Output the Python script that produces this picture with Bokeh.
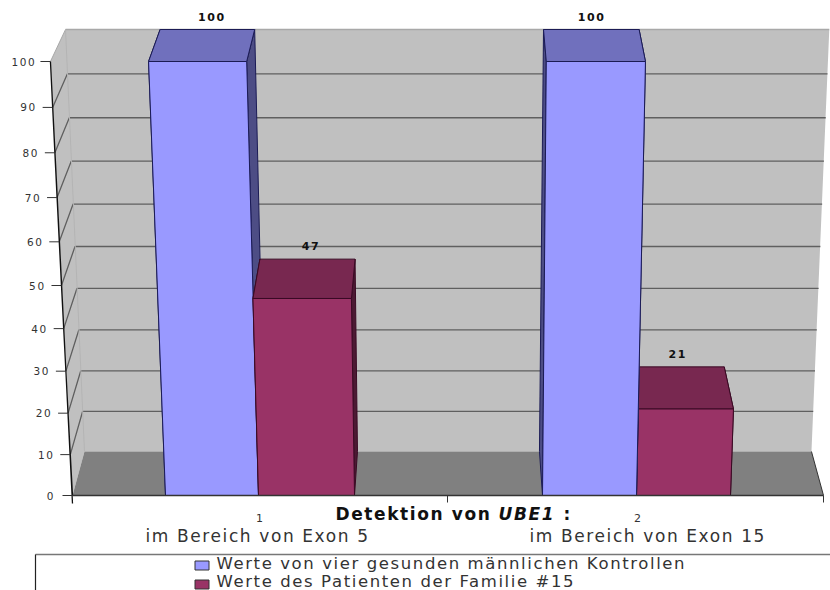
from bokeh.plotting import figure
from bokeh.embed import file_html
from bokeh.resources import INLINE
from bokeh.core.properties import value

# Chart data
categories = ["1", "2"]
regions = ["im Bereich von Exon 5", "im Bereich von Exon 15"]
controls = [100, 100]
patient = [47, 21]
value_ticks = [0, 10, 20, 30, 40, 50, 60, 70, 80, 90, 100]
series_names = ["Werte von vier gesunden männlichen Kontrollen",
                "Werte des Patienten der Familie #15"]

FONT = value("DejaVu Sans")
WALL, FLOOR, GRID = "#c0c0c0", "#808080", "#5f5f5f"
BLUE = ("#9999ff", "#7070bd", "#4d4d85", "#1b1b55")    # front, top, side, edge
PLUM = ("#993366", "#782850", "#4c1a33", "#3a0a24")

# Floor-level x extents of the plot and of each bar pair, in pixels
LEFT, RIGHT = 72, 823
GROUP_EDGES = [(165, 258, 354), (542, 636, 730)]


def front_y(v):
    return 495 - v * (4.06 + 0.0028 * v)


def back_y(v):
    return 451 - v * (3.98 + 0.0024 * v)


def front_x(x, v):
    return 473 + (x - 473) * (1 + 0.055 * v / 100)


def back_x(x, v):
    t = v / 100
    return (14.3 - 22.5 * t) + (0.968 + 0.049 * t) * x


p = figure(width=830, height=590, x_range=(0, 830), y_range=(590, 0),
           toolbar_location=None, output_backend="svg", min_border=0,
           background_fill_color="white", border_fill_color="white", outline_line_color=None)
p.xaxis.visible = False
p.yaxis.visible = False
p.grid.visible = False
# Wide tracking on all lettering
p.styles = {"letter-spacing": "1.6px"}

# Walls and floor
p.patch([front_x(LEFT, 100), back_x(LEFT, 100), back_x(RIGHT, 100), back_x(RIGHT, 0), back_x(LEFT, 0), LEFT],
        [front_y(100), back_y(100), back_y(100), back_y(0), back_y(0), front_y(0)],
        fill_color=WALL, line_color=None)
p.patch([LEFT, back_x(LEFT, 0), back_x(RIGHT, 0), RIGHT],
        [front_y(0), back_y(0), back_y(0), front_y(0)],
        fill_color=FLOOR, line_color=None)
p.line([back_x(LEFT, 100), back_x(RIGHT, 100)], [back_y(100), back_y(100)], line_color="#a8a8a8", line_width=1.5)

# Gridlines along the side and back walls
for v in value_ticks[1:-1]:
    p.line([front_x(LEFT, v), back_x(LEFT, v), back_x(RIGHT, v)],
           [front_y(v), back_y(v), back_y(v)], line_color=GRID, line_width=1.3)
p.line([front_x(LEFT, 100), back_x(LEFT, 100)], [front_y(100), back_y(100)], line_color="#a8a8a8", line_width=1)
p.line([back_x(LEFT, 0), back_x(LEFT, 100)], [back_y(0), back_y(100)], line_color="#b4b4b4", line_width=1)


def draw_bar(x0, x1, v, colors):
    front, top, side, edge = colors
    for x in (x0, x1):
        p.patch([front_x(x, 0), back_x(x, 0), back_x(x, v), front_x(x, v)],
                [front_y(0), back_y(0), back_y(v), front_y(v)],
                fill_color=side, line_color=edge, line_width=1)
    p.patch([front_x(x0, v), back_x(x0, v), back_x(x1, v), front_x(x1, v)],
            [front_y(v), back_y(v), back_y(v), front_y(v)],
            fill_color=top, line_color=edge, line_width=1)
    p.patch([x0, front_x(x0, v), front_x(x1, v), x1],
            [front_y(0), front_y(v), front_y(v), front_y(0)],
            fill_color=front, line_color=edge, line_width=1)


def label_bar(x0, x1, v):
    cx = (back_x(x0, v) + back_x(x1, v)) / 2 + (2 if x0 < 473 else -2)
    p.text([cx], [back_y(v) - 13], text=[str(v)], text_font=FONT, text_font_size="11px",
           text_font_style="bold", text_align="center", text_baseline="middle", text_color="#111111")


# The bar farther from the viewing centre is painted first
for (a, b, c), ctrl, pat in zip(GROUP_EDGES, controls, patient):
    if b < 473:
        draw_bar(a, b, ctrl, BLUE)
        draw_bar(b, c, pat, PLUM)
    else:
        draw_bar(b, c, pat, PLUM)
        draw_bar(a, b, ctrl, BLUE)
    label_bar(a, b, ctrl)
    label_bar(b, c, pat)

# Value axis: slanted spine, ticks and labels
axis_values = value_ticks
p.line([front_x(LEFT, v) for v in axis_values] + [LEFT],
       [front_y(v) for v in axis_values] + [front_y(0) + 8], line_color="#111111", line_width=1.3)
for v in value_ticks:
    xt = front_x(LEFT, v)
    p.line([xt - 10, xt], [front_y(v), front_y(v)], line_color="#333333", line_width=1)
    p.text([xt - 19], [front_y(v)], text=[str(v)], text_font=FONT, text_font_size="10.5px",
           text_align="right", text_baseline="middle", text_color="#333333")

# Category axis
p.line([LEFT, RIGHT], [front_y(0), front_y(0)], line_color="#333333", line_width=1.3)
p.line([back_x(RIGHT, 0), RIGHT, RIGHT], [back_y(0), front_y(0), front_y(0) + 7], line_color="#333333", line_width=1)
p.line([447, 447], [front_y(0), front_y(0) + 7], line_color="#333333", line_width=1)
for (a, b, c), cat in zip(GROUP_EDGES, categories):
    p.text([b + 1], [517], text=[cat], text_font=FONT, text_font_size="11px",
           text_align="center", text_baseline="middle", text_color="#333333")
for x, reg in zip((145, 529), regions):
    p.text([x], [535], text=[reg], text_font=FONT, text_font_size="17px",
           text_align="left", text_baseline="middle", text_color="#333333")

# Axis title with the gene name in italics
for x, s, style in [(335, "Detektion von", "bold"), (498, "UBE1", "bold italic"), (563, ":", "bold")]:
    p.text([x], [513], text=[s], text_font=FONT, text_font_size="17px", text_font_style=style,
           text_align="left", text_baseline="middle", text_color="#111111")

# Legend box, cut off by the bottom of the page
p.line([35, 830], [554, 554], line_color="#777777", line_width=1.5)
p.line([35, 35], [590, 554], line_color="#222222", line_width=1.2)
for swatch_y, text_y, name, colors in zip((565, 584), (563, 581), series_names, (BLUE, PLUM)):
    p.rect([201.5], [swatch_y], width=14, height=9, fill_color=colors[0], line_color="#333333", line_width=1)
    p.text([216], [text_y], text=[name], text_font=FONT, text_font_size="16.5px",
           text_align="left", text_baseline="middle", text_color="#333333")

open("out.html", "w").write(file_html(p, INLINE))
